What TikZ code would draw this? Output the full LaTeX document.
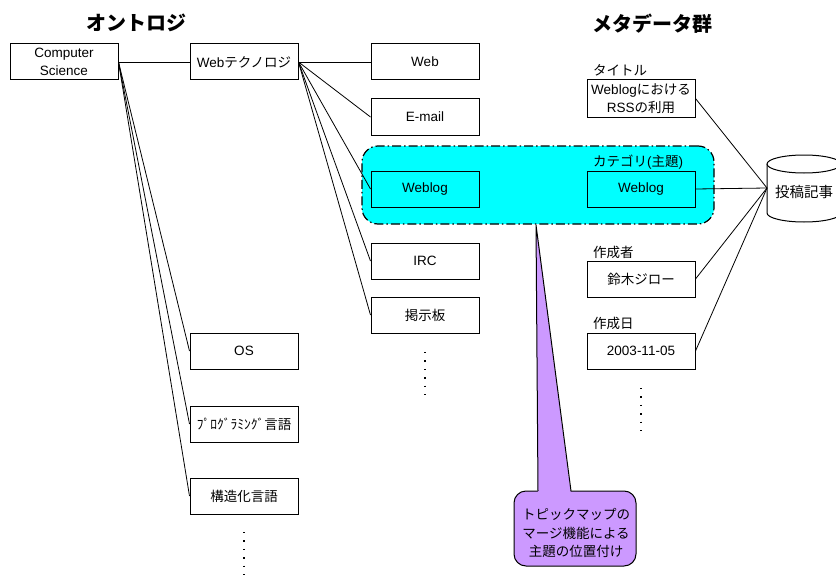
\documentclass[tikz,border=0pt]{standalone}
\usepackage{fontspec}
\setmainfont{Liberation Sans}
\newfontfamily\jp{Noto Sans CJK JP}
\definecolor{grpcyan}{RGB}{0,255,255}
\definecolor{callviolet}{RGB}{204,153,255}
\begin{document}
\begin{tikzpicture}[x=1pt,y=-1pt,
  box/.style={draw, line width=1pt, minimum width=108pt, minimum height=36pt, inner sep=0pt, align=center, font=\fontsize{13.5}{18}\selectfont},
  conn/.style={line width=0.8pt},
  lbl/.style={anchor=west, inner sep=0pt, font=\fontsize{13.5}{18}\selectfont\jp},
  ttlfont/.style={font=\fontsize{20}{24}\selectfont\jp\bfseries},
  dotline/.style={line width=1.4pt, dash pattern=on 1.4pt off 7pt},
  grpstyle/.style={draw, fill=grpcyan, line width=1.2pt, rounded corners=16pt, dash pattern=on 9pt off 3pt on 1.5pt off 3pt},
  callstyle/.style={draw, fill=callviolet, line width=1pt}]
\useasboundingbox (0,0) rectangle (836,578);

% titles
\node[ttlfont] (t1) at (136,23) {オントロジ};
\node[ttlfont] (t2) at (652,24) {メタデータ群};

% group (cyan)
\node[grpstyle, minimum width=352pt, minimum height=78pt, inner sep=0pt] (grp) at (538,185) {};
\node[lbl] (catlbl) at (593,162) {カテゴリ{\fontspec{Liberation Sans}(}主題{\fontspec{Liberation Sans})}};

% ontology boxes
\node[box] (cs) at (64,62) {Computer\\Science};
\node[box] (wt) at (244,62) {Web{\jp テクノロジ}};
\node[box] (web) at (425,62) {Web};
\node[box] (email) at (425,117) {E-mail};
\node[box] (wl) at (425,189) {Weblog};
\node[box] (irc) at (425,261) {IRC};
\node[box] (bbs) at (425,315) {\jp 掲示板};
\node[box] (os) at (244,351) {OS};
\node[box] (prog) at (244,424) {\jp ﾌﾟﾛｸﾞﾗﾐﾝｸﾞ言語};
\node[box] (struct) at (244,496) {\jp 構造化言語};

% metadata
\node[lbl] (ttllbl) at (593,70) {タイトル};
\node[box, minimum height=37pt] (ttl) at (641,98.5) {Weblog{\jp における}\\RSS{\jp の利用}};
\node[box] (cat) at (641,189) {Weblog};
\node[lbl] (authlbl) at (593,252) {作成者};
\node[box] (auth) at (641,279) {\jp 鈴木ジロー};
\node[lbl] (datelbl) at (593,323) {作成日};
\node[box] (date) at (641,351) {2003-11-05};

% cylinder
\draw[line width=1pt, fill=white] (767,164) -- (767,213) arc[start angle=180, end angle=360, x radius=37pt, y radius=9pt] -- (841,164);
\draw[line width=1pt, fill=white] (804,164) ellipse [x radius=37pt, y radius=9pt];
\node[font=\fontsize{14.5}{18}\selectfont\jp] (art) at (804,192) {投稿記事};
\coordinate (artw) at (767,188);

% connectors
\draw[conn] (cs.east) -- (wt.west);
\draw[conn] (cs.east) -- (os.west);
\draw[conn] (cs.east) -- (prog.west);
\draw[conn] (cs.east) -- (struct.west);
\draw[conn] (wt.east) -- (web.west);
\draw[conn] (wt.east) -- (email.west);
\draw[conn] (wt.east) -- (wl.west);
\draw[conn] (wt.east) -- (irc.west);
\draw[conn] (wt.east) -- (bbs.west);
\draw[conn] (ttl.east) -- (artw);
\draw[conn] (cat.east) -- (artw);
\draw[conn] (auth.east) -- (artw);
\draw[conn] (date.east) -- (artw);

% dots
\coordinate (d1a) at (425,352); \coordinate (d1b) at (425,402);
\draw[dotline] (d1a) -- (d1b);
\coordinate (d2a) at (244,532); \coordinate (d2b) at (244,580);
\draw[dotline] (d2a) -- (d2b);
\coordinate (d3a) at (641,388); \coordinate (d3b) at (641,438);
\draw[dotline] (d3a) -- (d3b);

% callout
\coordinate (tip) at (536,225);
\coordinate (pl) at (538,491);
\coordinate (pr) at (571,491);
\draw[callstyle, rounded corners=12pt] (514,491) rectangle (636,566);
\fill[callviolet] (tip) -- (571,494) -- (538,494) -- cycle;
\draw[line width=1pt] (pl) -- (tip) -- (pr);
\node[font=\fontsize{13.5}{18.5}\selectfont\jp, align=center] (call) at (576,533) {トピックマップの\\マージ機能による\\主題の位置付け};
\end{tikzpicture}
\end{document}
